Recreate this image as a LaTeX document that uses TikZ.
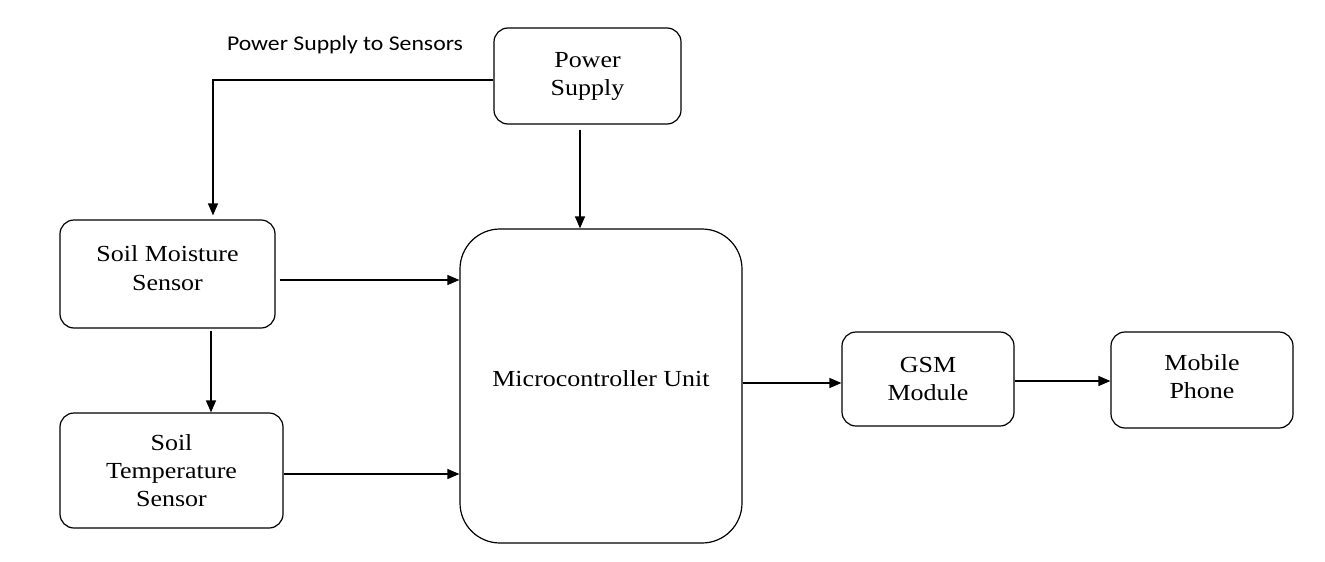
\documentclass[tikz,border=0pt]{standalone}
\usepackage{fontspec}
\setmainfont{Liberation Serif}[FakeStretch=1.13]
\newfontfamily\labelfont{Carlito}[FakeStretch=1.13]
\usetikzlibrary{arrows.meta,calc}
\begin{document}
\begin{tikzpicture}[x=1pt,y=-1pt,
  blk/.style={draw=black, line width=1.2pt, rounded corners=14pt, align=center,
    font=\fontsize{23}{28}\selectfont, inner sep=0pt},
  arr/.style={draw=black, line width=1.2pt, -{Triangle[length=12pt,width=10pt]}}]
\useasboundingbox (0,0) rectangle (1325,562);
\node[blk, minimum width=187pt, minimum height=96pt] (Power) at (587.5,76) {Power\\Supply};
\node[blk, minimum width=215pt, minimum height=108pt] (Moist) at (167.5,274) {};
\node[font=\fontsize{23}{29}\selectfont, align=center] (MoistT) at (167.5,268) {Soil Moisture\\Sensor};
\node[blk, minimum width=223pt, minimum height=115pt] (Temp) at (171.5,470.5) {Soil\\Temperature\\Sensor};
\node[blk, minimum width=282pt, minimum height=314pt, rounded corners=40pt] (MCU) at (601,386) {};
\node[font=\fontsize{23}{29}\selectfont] (MCUT) at (601,379) {Microcontroller Unit};
\node[blk, minimum width=172pt, minimum height=94pt] (GSM) at (928,379) {GSM\\Module};
\node[blk, minimum width=182pt, minimum height=96pt] (Mobile) at (1202,380) {};
\node[font=\fontsize{23}{28}\selectfont, align=center] (MobileT) at (1202,377) {Mobile\\Phone};
\node[font=\labelfont\fontsize{21}{25}\selectfont] (lbl) at (345,45) {Power Supply to Sensors};
% connectors
\coordinate (p1) at ([shift={(0,4)}]Power.west);
\coordinate (p2) at ([shift={(45.5,-4)}]Moist.north);
\draw[arr] (p1) -| (p2);
\coordinate (p3) at ([shift={(-7.5,5)}]Power.south);
\draw[arr] (p3) -- (p3 |- MCU.north);
\coordinate (m1) at ([shift={(4,6)}]Moist.east);
\draw[arr] (m1) -- (m1 -| MCU.west);
\coordinate (m2) at ([shift={(43.5,2)}]Moist.south);
\draw[arr] (m2) -- (m2 |- Temp.north);
\coordinate (t1) at ([shift={(0,3.5)}]Temp.east);
\draw[arr] (t1) -- (t1 -| MCU.west);
\coordinate (c1) at ([shift={(0,-3)}]MCU.east);
\draw[arr] (c1) -- (c1 -| GSM.west);
\coordinate (g1) at ([shift={(0,2)}]GSM.east);
\draw[arr] (g1) -- (g1 -| Mobile.west);
\end{tikzpicture}
\end{document}
